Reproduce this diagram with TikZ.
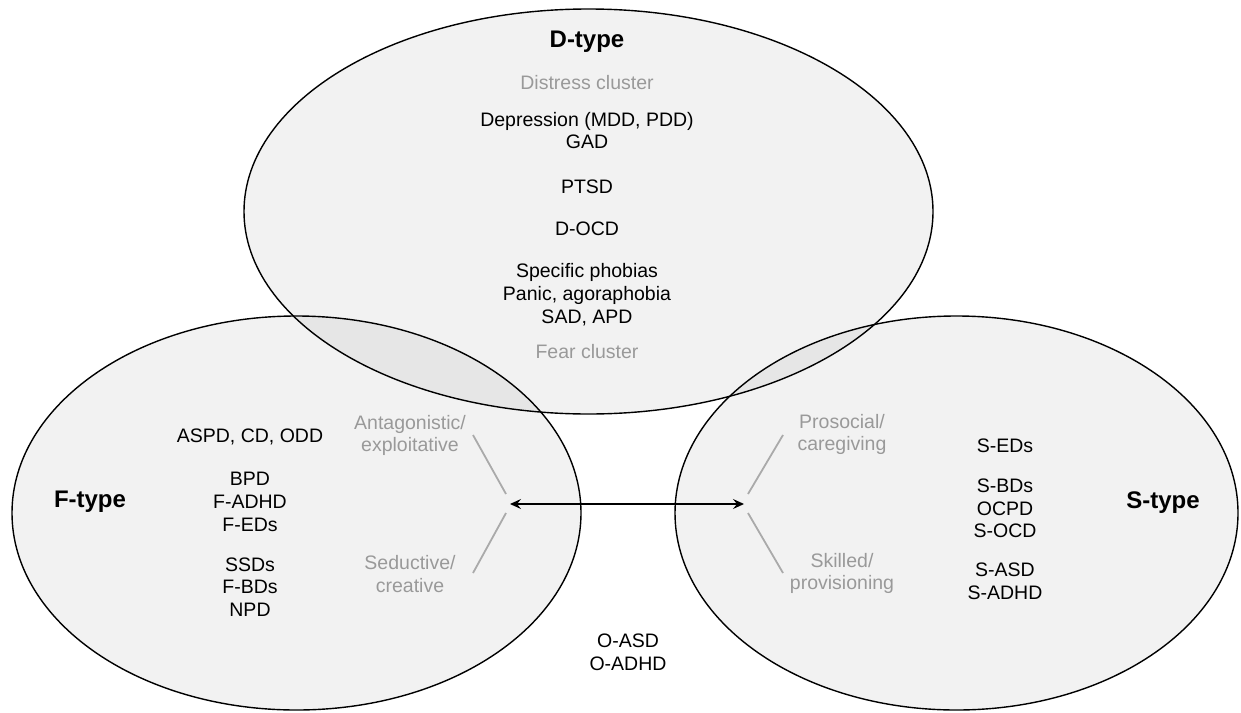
\documentclass[tikz,border=0pt]{standalone}
\usepackage{fontspec}
\setmainfont{Liberation Sans}
\usetikzlibrary{arrows.meta}
\definecolor{softgray}{HTML}{999999}
\definecolor{linegray}{HTML}{AAAAAA}
\tikzset{
  typeset/.style={draw=black, line width=1.4pt, fill=black, fill opacity=0.05},
  lbl/.style={inner sep=0pt, align=center, font=\fontsize{19.5}{22.7}\selectfont},
  glbl/.style={lbl, text=softgray},
  ttl/.style={inner sep=0pt, font=\fontsize{24}{28}\selectfont\bfseries},
  spoke/.style={draw=linegray, line width=1.8pt}
}

\begin{document}
\begin{tikzpicture}[x=1pt, y=-1pt]
\useasboundingbox (0,0) rectangle (1241,712);
% Ellipses
\draw [typeset] (588.5,211.5) ellipse (344.5 and 202.5);
\draw [typeset] (296.5,513) ellipse (284.5 and 197);
\draw [typeset] (956.5,513) ellipse (281.5 and 197);
% D-type
\node [ttl] (dtype) at (587,42) {D-type};
\node [glbl] (distress) at (587,83) {Distress cluster};
\node [lbl] (dep) at (587,130.5) {Depression (MDD, PDD)\\GAD};
\node [lbl] (ptsd) at (587,187) {PTSD};
\node [lbl] (docd) at (587,229) {D-OCD};
\node [lbl] (phob) at (587,294.5) {Specific phobias\\Panic, agoraphobia\\SAD, APD};
\node [glbl] (fear) at (587,352) {Fear cluster};
% F-type
\node [ttl] (ftype) at (90,502) {F-type};
\node [lbl] (aspd) at (250,437) {ASPD, CD, ODD};
\node [lbl] (bpd) at (250,502) {BPD\\F-ADHD\\F-EDs};
\node [lbl] (ssd) at (250,587) {SSDs\\F-BDs\\NPD};
\node [glbl] (antag) at (410,435.5) {Antagonistic/\\exploitative};
\node [glbl] (seduc) at (410,574) {Seductive/\\creative};
% S-type
\node [ttl] (stype) at (1163,503) {S-type};
\node [lbl] (seds) at (1005,446) {S-EDs};
\node [lbl] (sbds) at (1005,508.5) {S-BDs\\OCPD\\S-OCD};
\node [lbl] (sasd) at (1005,581.5) {S-ASD\\S-ADHD};
\node [glbl] (prosoc) at (842,434.5) {Prosocial/\\caregiving};
\node [glbl] (skill) at (842,573.5) {Skilled/\\provisioning};
% Outside
\node [lbl] (oasd) at (628,652) {O-ASD\\O-ADHD};
% Spokes
\coordinate (fa) at (473,435);
\coordinate (fb) at (506,494);
\coordinate (fc) at (506,513);
\coordinate (fd) at (473,573);
\coordinate (sa) at (783,435);
\coordinate (sb) at (748,494);
\coordinate (sc) at (748,513);
\coordinate (sd) at (783,573);
\draw [spoke] (fa) -- (fb);
\draw [spoke] (fc) -- (fd);
\draw [spoke] (sa) -- (sb);
\draw [spoke] (sc) -- (sd);
% Axis
\coordinate (arrl) at (510,504);
\coordinate (arrr) at (744,504);
\draw [line width=1.3pt, {Stealth[length=11pt,width=10pt,inset=4pt]}-{Stealth[length=11pt,width=10pt,inset=4pt]}] (arrl) -- (arrr);
\end{tikzpicture}
\end{document}
